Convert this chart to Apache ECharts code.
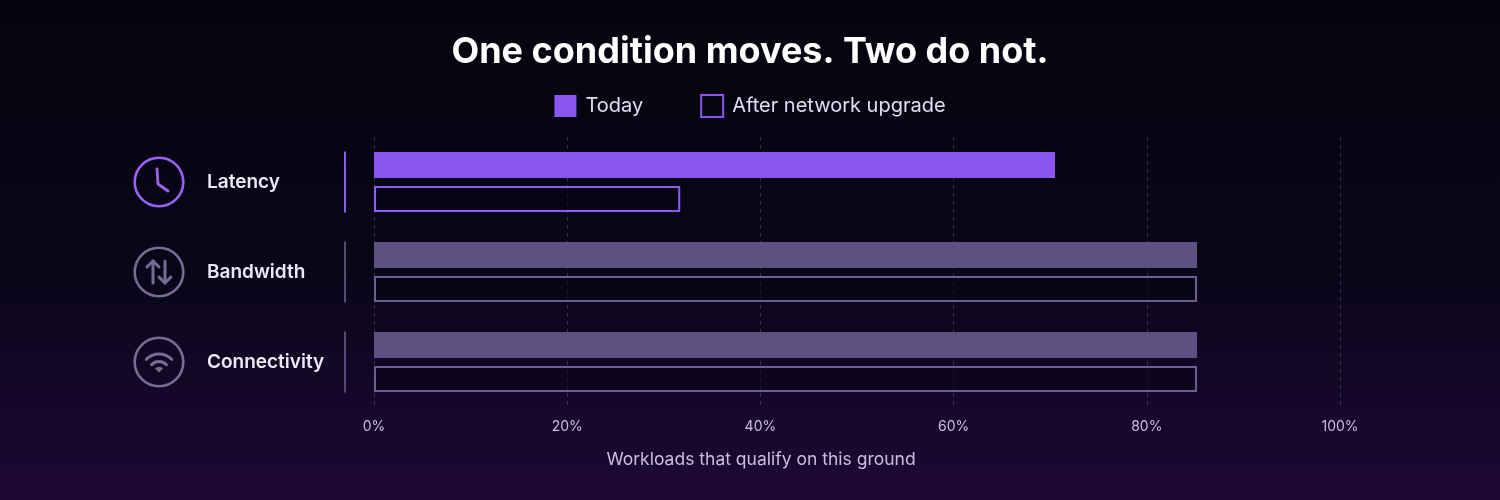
<!DOCTYPE html>
<html>
<head>
<meta charset="utf-8">
<script src="https://cdn.jsdelivr.net/npm/echarts@6/dist/echarts.min.js"></script>
<style>
html,body{margin:0;padding:0;background:#06050f;}
#c{width:1500px;height:500px;}
</style>
</head>
<body>
<div id="c"></div>
<script>
// ---- data ----
const categories = ['Latency', 'Bandwidth', 'Connectivity'];
const todayValues = [70.5, 85.2, 85.2];
const afterValues = [31.7, 85.2, 85.2];
const highlighted = [true, false, false];
const xTicks = [0, 20, 40, 60, 80, 100];
const seriesNames = ['Today', 'After network upgrade'];
const titleText = 'One condition moves. Two do not.';
const axisTitle = 'Workloads that qualify on this ground';

// ---- styles ----
const PURPLE = '#8b55f2';
const MUTED_FILL = '#5d5182';
const MUTED_LINE = '#6c5f92';
const ICON_HI = '#9a62f5';
const ICON_LO = '#776d94';

function svgUri(inner, color) {
  const svg = `<svg xmlns="http://www.w3.org/2000/svg" width="52" height="52" viewBox="0 0 52 52"><circle cx="26" cy="26" r="24.3" fill="none" stroke="${color}" stroke-width="2.6"/>${inner.replace(/COL/g, color)}</svg>`;
  return 'data:image/svg+xml;utf8,' + encodeURIComponent(svg);
}
const iconInner = {
  Latency: '<polyline points="24,13 25,28 35,35" fill="none" stroke="COL" stroke-width="2.8" stroke-linecap="round" stroke-linejoin="round"/>',
  Bandwidth: '<g fill="none" stroke="COL" stroke-width="3" stroke-linecap="round" stroke-linejoin="round"><line x1="20" y1="37" x2="20" y2="15"/><polyline points="14,21 20,15 26,21"/><line x1="32" y1="15" x2="32" y2="37"/><polyline points="26,31 32,37 38,31"/></g>',
  Connectivity: '<g fill="none" stroke="COL" stroke-width="3" stroke-linecap="round"><path d="M13.3,23.3 A18 18 0 0 1 38.7,23.3"/><path d="M18.6,28.6 A10.5 10.5 0 0 1 33.4,28.6"/></g><path d="M22,32.5 L26,36.5 L30,32.5 A5.6 5.6 0 0 0 22,32.5 Z" fill="COL"/>'
};

const rich = {
  name: { fontFamily: 'Inter', fontSize: 19, fontWeight: 600, color: '#ece8f5', width: 137, padding: [0, 0, 0, 22], align: 'left', verticalAlign: 'middle' },
  sepHi: { width: 2, height: 61, backgroundColor: '#8b5cf6', verticalAlign: 'middle' },
  sepLo: { width: 2, height: 61, backgroundColor: '#554b76', verticalAlign: 'middle' }
};
categories.forEach((c, i) => {
  rich['ic' + i] = {
    width: 52, height: 52, verticalAlign: 'middle',
    backgroundColor: { image: svgUri(iconInner[c], highlighted[i] ? ICON_HI : ICON_LO) }
  };
});

const chart = echarts.init(document.getElementById('c'));
chart.setOption({
  backgroundColor: new echarts.graphic.LinearGradient(0, 0, 0, 1, [
    { offset: 0, color: '#05040e' },
    { offset: 0.55, color: '#0a0619' },
    { offset: 1, color: '#1e0836' }
  ]),
  textStyle: { fontFamily: 'Inter' },
  title: {
    text: titleText, left: 'center', top: 29,
    textStyle: { fontFamily: 'Inter', fontSize: 36, fontWeight: 700, color: '#ffffff' }
  },
  legend: {
    top: 89, left: 'center', itemWidth: 22, itemHeight: 22, itemGap: 57,
    textStyle: { color: '#e2ddee', fontSize: 20, fontFamily: 'Inter', padding: [0, 0, 0, 4] },
    data: [
      { name: seriesNames[0], icon: 'rect', itemStyle: { color: PURPLE, borderWidth: 0 } },
      { name: seriesNames[1], icon: 'rect', itemStyle: { color: 'rgba(0,0,0,0)', borderColor: PURPLE, borderWidth: 2 } }
    ]
  },
  grid: { left: 374, right: 160, top: 137, bottom: 93, containLabel: false },
  xAxis: {
    type: 'value', min: 0, max: 100, interval: 20,
    axisLine: { show: false }, axisTick: { show: false },
    splitLine: { show: true, lineStyle: { type: [4, 4], color: 'rgba(150,140,185,0.32)', width: 1 } },
    axisLabel: { color: '#c9c0dc', fontSize: 14, margin: 13, formatter: v => xTicks.includes(v) ? v + '%' : '' }
  },
  yAxis: {
    type: 'category', data: categories, inverse: true,
    axisLine: { show: false }, axisTick: { show: false }, splitLine: { show: false },
    axisLabel: {
      margin: 241, align: 'left',
      formatter: (v, i) => `{ic${i}|}{name|${v}}{${highlighted[i] ? 'sepHi' : 'sepLo'}|}`,
      rich: rich
    }
  },
  series: [
    {
      name: seriesNames[0], type: 'bar', barWidth: 26, barGap: '30%',
      itemStyle: { color: PURPLE },
      data: todayValues.map((v, i) => ({ value: v, itemStyle: { color: highlighted[i] ? PURPLE : MUTED_FILL } }))
    },
    {
      name: seriesNames[1], type: 'bar', barWidth: 26, barGap: '30%',
      itemStyle: { color: 'rgba(8,4,20,0.55)', borderColor: PURPLE, borderWidth: 2 },
      data: afterValues.map((v, i) => ({ value: v, itemStyle: { color: 'rgba(8,4,20,0.55)', borderColor: highlighted[i] ? '#8b5cf6' : MUTED_LINE, borderWidth: 2 } }))
    }
  ],
  graphic: [
    { type: 'text', x: 761, y: 460, style: { text: axisTitle, fill: '#c8bfdf', fontSize: 17.5, fontFamily: 'Inter', textAlign: 'center', textVerticalAlign: 'middle' } }
  ]
});
</script>
</body>
</html>
